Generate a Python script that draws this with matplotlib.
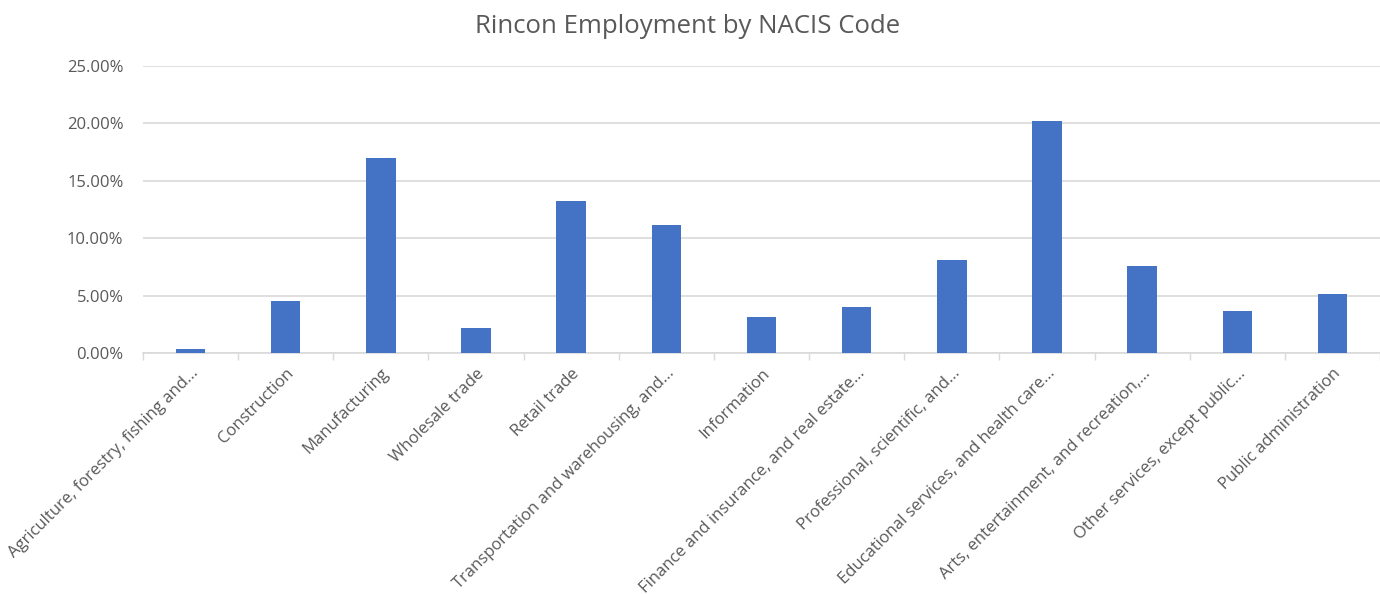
import numpy as np
import matplotlib.pyplot as plt
from matplotlib.ticker import PercentFormatter

plt.rcParams['font.family'] = ['Open Sans', 'DejaVu Sans']

# employment share by industry (fraction of total)
categories = [
    "Agriculture, forestry, fishing and...",
    "Construction",
    "Manufacturing",
    "Wholesale trade",
    "Retail trade",
    "Transportation and warehousing, and...",
    "Information",
    "Finance and insurance, and real estate...",
    "Professional, scientific, and...",
    "Educational services, and health care...",
    "Arts, entertainment, and recreation,...",
    "Other services, except public...",
    "Public administration",
]
shares = [0.0035, 0.0449, 0.1700, 0.0214, 0.1320, 0.1112, 0.0313,
          0.0405, 0.0811, 0.2020, 0.0760, 0.0368, 0.0516]
yticks = [0, 0.05, 0.10, 0.15, 0.20, 0.25]

grey_txt = "#595959"
grid_col = "#d9d9d9"

fig = plt.figure(figsize=(13.8, 5.94), dpi=100)
ax = fig.add_axes([0.1036, 0.4057, 0.8964, 0.4832])

x = np.arange(len(categories))
ax.bar(x, shares, width=0.31, color="#4472c4", zorder=3)

ax.set_xlim(-0.5, len(categories) - 0.5)
ax.set_ylim(0, 0.25)
ax.set_yticks(yticks)
ax.yaxis.set_major_formatter(PercentFormatter(1.0, decimals=2))
ax.grid(axis="y", color=grid_col, linewidth=1.2, zorder=0)

for s in ["top", "right", "left"]:
    ax.spines[s].set_visible(False)
ax.spines["bottom"].set_color(grid_col)
ax.spines["bottom"].set_linewidth(1.2)

# category labels at bar centres, tick marks between categories
ax.set_xticks(x)
ax.set_xticklabels(categories, rotation=45, ha="right", va="top",
                   rotation_mode="anchor", fontsize=12, color=grey_txt)
ax.tick_params(axis="x", length=0, pad=9)
ax.set_xticks(np.arange(len(categories) + 1) - 0.5, minor=True)
ax.tick_params(axis="x", which="minor", length=5, color=grid_col, width=1)
ax.tick_params(axis="y", length=0, labelsize=12, labelcolor=grey_txt, pad=14)

ax.set_title("Rincon Employment by NACIS Code", fontsize=18.5, color=grey_txt,
             pad=24, x=0.44)

fig.savefig("out.png", dpi=100)
